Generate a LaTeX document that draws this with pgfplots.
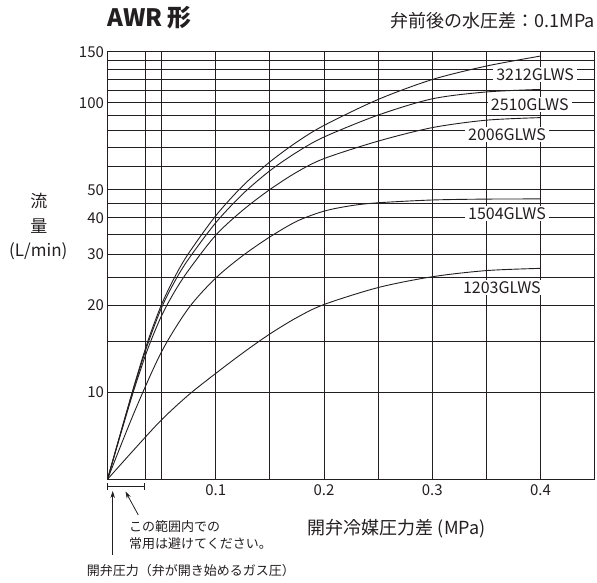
\documentclass[border=0pt]{standalone}
\usepackage{fontspec}
\setmainfont{Noto Sans CJK JP}
\usepackage{pgfplots}
\pgfplotsset{compat=1.18}
\usetikzlibrary{arrows.meta}
\definecolor{ink}{RGB}{35,31,32}

% 3212GLWS
\pgfplotstableread{
x y
0 5
0.0125 7.31
0.025 10.66
0.0375 15.09
0.05 20.11
0.0625 25.14
0.075 30.2
0.1 40.68
0.125 51.62
0.15 62.44
0.175 73.18
0.2 83.45
0.25 102.6
0.3 120.2
0.35 133.8
0.4 144.9
}\tA
% 2510GLWS
\pgfplotstableread{
x y
0 5
0.0125 7.31
0.025 10.55
0.0375 14.78
0.05 19.61
0.0625 24.28
0.075 28.88
0.1 38.5
0.125 48.4
0.15 58.2
0.175 67.5
0.2 76.1
0.25 90.6
0.3 103.1
0.35 108.9
0.4 111.1
}\tB
% 2006GLWS
\pgfplotstableread{
x y
0 5
0.0125 7.23
0.025 10.34
0.0375 14.2
0.05 18.39
0.0625 22.42
0.075 26.41
0.1 34.86
0.125 42.53
0.15 50.12
0.175 57.6
0.2 64.1
0.25 73.65
0.3 82.0
0.35 87.0
0.4 88.8
}\tC
% 1504GLWS
\pgfplotstableread{
x y
0 5
0.025 8.57
0.05 13.8
0.075 19.53
0.1 24.79
0.125 29.63
0.15 34.38
0.175 38.97
0.2 42.2
0.225 44.07
0.25 45.1
0.3 46.11
0.35 46.44
0.4 46.5
}\tD
% 1203GLWS
\pgfplotstableread{
x y
0 5
0.025 6.36
0.05 8.03
0.075 9.79
0.1 11.61
0.125 13.66
0.15 15.89
0.175 18.11
0.2 20.08
0.25 22.98
0.3 25.04
0.35 26.3
0.4 26.77
}\tE

\begin{document}
\begin{tikzpicture}
\useasboundingbox (0pt,0pt) rectangle (597pt,583pt);
\begin{axis}[
  at={(107.5pt,103.7pt)}, anchor=south west,
  width=487.2pt, height=427.6pt, scale only axis,
  xmin=0, xmax=0.45, ymin=5, ymax=150, ymode=log,
  xtick={0.1,0.2,0.3,0.4}, xticklabels={0.1,0.2,0.3,0.4},
  minor xtick={0.035,0.05,0.15,0.25,0.35},
  ytick={10,20,30,40,50,100,150}, yticklabels={10,20,30,40,50,100,150},
  minor ytick={15,25,35,45,60,70,80,90,110,120,130,140},
  grid=both,
  major grid style={ink, line width=0.9pt},
  minor grid style={ink, line width=0.9pt},
  axis line style={ink, line width=0.9pt},
  major tick length=0pt, minor tick length=0pt,
  tick label style={font=\fontsize{15}{18}\selectfont, text=ink},
  xticklabel style={yshift=-2pt},
  /pgf/number format/assume math mode=true,
]
\addplot[ink, line width=0.9pt, smooth] table {\tA};
\addplot[ink, line width=0.9pt, smooth] table {\tB};
\addplot[ink, line width=0.9pt, smooth] table {\tC};
\addplot[ink, line width=0.9pt, smooth] table {\tD};
\addplot[ink, line width=0.9pt, smooth] table {\tE};
\tikzset{lab/.style={fill=white, inner xsep=3pt, inner ysep=1.5pt, text=ink, font=\fontsize{16}{18}\selectfont}}
\node[lab] at (axis cs:0.395,125) {3212GLWS};
\node[lab] at (axis cs:0.39,98.7) {2510GLWS};
\node[lab] at (axis cs:0.369,77.8) {2006GLWS};
\node[lab] at (axis cs:0.369,41.4) {1504GLWS};
\node[lab] at (axis cs:0.3643,23.0) {1203GLWS};
\end{axis}
% titles
\node[anchor=base west, text=ink, font=\fontsize{24}{28}\selectfont\bfseries, inner sep=0pt] at (107pt,556.3pt) {AWR 形};
\node[anchor=base east, text=ink, font=\fontsize{18}{20}\selectfont, inner sep=0pt] at (595pt,555.7pt) {弁前後の水圧差：0.1MPa};
% y label
\node[text=ink, font=\fontsize{17}{20}\selectfont, inner sep=0pt] at (39pt,382.2pt) {流};
\node[text=ink, font=\fontsize{17}{20}\selectfont, inner sep=0pt] at (39pt,357.2pt) {量};
\node[text=ink, font=\fontsize{17}{20}\selectfont, inner sep=0pt] at (38.3pt,332.2pt) {(L/min)};
% x label
\node[text=ink, font=\fontsize{18}{20}\selectfont, inner sep=0pt] at (396.7pt,54.7pt) {開弁冷媒圧力差 (MPa)};
% annotations
\draw[ink, line width=0.8pt, {Bar[width=7pt]}-{Bar[width=7pt]}] (107.3pt,96.3pt) -- (144.5pt,96.3pt);
\draw[ink, line width=0.8pt, -{Stealth[length=7pt,width=4.5pt]}] (112.7pt,28pt) -- (112.7pt,92pt);
\draw[ink, line width=0.8pt, -{Stealth[length=7pt,width=4.5pt]}] (138.3pt,68pt) -- (125.5pt,91.5pt);
\node[anchor=west, text=ink, font=\fontsize{13}{16}\selectfont, inner sep=0pt] at (129pt,56.3pt) {この範囲内での};
\node[anchor=west, text=ink, font=\fontsize{13}{16}\selectfont, inner sep=0pt] at (129pt,39.7pt) {常用は避けてください。};
\node[text=ink, font=\fontsize{13}{16}\selectfont, inner sep=0pt] at (190.8pt,12.7pt) {開弁圧力（弁が開き始めるガス圧）};
\end{tikzpicture}
\end{document}
